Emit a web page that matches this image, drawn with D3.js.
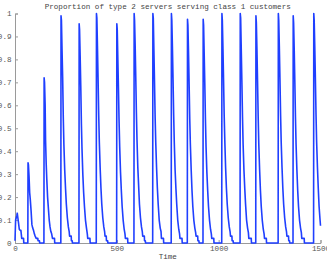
<!DOCTYPE html>
<html>
<head>
<meta charset="utf-8">
<script src="https://cdn.jsdelivr.net/npm/d3@7"></script>
<style>
  body { margin: 0; background: #fff; }
  svg { display: block; }
</style>
</head>
<body>
<div id="chart"></div>
<script>
// data, one line per spike
const time = [
  0, 3, 6, 9, 11, 14, 17, 21, 25, 29, 33, 37, 42, 43,
  63, 64, 66, 69, 72, 75, 79, 83, 87, 91, 95, 99, 104, 112, 113, 120, 121,
  142, 143, 145, 148, 150, 153, 156, 160, 164, 168, 172, 176, 180, 184, 194, 195,
  225, 226, 228, 231, 234, 237, 240, 244, 248, 252, 257, 262, 266, 268, 276, 277, 281, 282,
  314, 315, 317, 320, 323, 326, 329, 333, 337, 341, 346, 351, 355, 357, 368, 369,
  399, 400, 402, 405, 408, 411, 414, 418, 422, 426, 431, 436, 440, 442, 448, 449, 455, 456,
  499, 500, 502, 505, 508, 511, 514, 518, 522, 526, 531, 536, 540, 542, 553, 554,
  584, 585, 587, 590, 593, 596, 599, 603, 607, 611, 616, 621, 625, 627, 635, 636, 640, 641,
  676, 677, 679, 682, 685, 688, 691, 695, 699, 703, 708, 713, 717, 719, 729, 730,
  767, 768, 770, 773, 776, 779, 782, 786, 790, 794, 799, 804, 808, 810, 820, 821,
  846, 847, 849, 852, 855, 858, 861, 865, 869, 873, 878, 883, 887, 889, 897, 898, 903, 904,
  923, 924, 926, 929, 932, 935, 938, 942, 946, 950, 955, 960, 964, 966, 976, 977,
  1015, 1016, 1018, 1021, 1024, 1027, 1030, 1034, 1038, 1042, 1047, 1052, 1056, 1058, 1065, 1066, 1071, 1072,
  1105, 1106, 1108, 1111, 1114, 1117, 1120, 1124, 1128, 1132, 1137, 1142, 1146, 1148, 1160, 1161,
  1182, 1183, 1185, 1188, 1191, 1194, 1197, 1201, 1205, 1209, 1214, 1219, 1223, 1225, 1234, 1235,
  1292, 1293, 1295, 1298, 1301, 1304, 1307, 1311, 1315, 1319, 1324, 1329, 1333, 1335, 1343, 1344, 1348, 1349,
  1365, 1366, 1368, 1371, 1374, 1377, 1380, 1384, 1388, 1392, 1397, 1402, 1406, 1408, 1420, 1421,
  1466, 1467, 1469, 1472, 1475, 1478, 1481, 1485, 1489, 1493, 1497, 1500
];
const proportion = [
  0.01, 0.10, 0.11, 0.12, 0.13, 0.11, 0.09, 0.06, 0.055, 0.055, 0.02, 0.02, 0.02, 0,
  0, 0.35, 0.34, 0.29, 0.22, 0.19, 0.14, 0.08, 0.065, 0.055, 0.04, 0.03, 0.02, 0.02, 0.01, 0.01, 0,
  0, 0.72, 0.70, 0.60, 0.45, 0.35, 0.28, 0.20, 0.15, 0.10, 0.07, 0.05, 0.04, 0.02, 0.02, 0,
  0, 0.99, 0.97, 0.84, 0.72, 0.55, 0.43, 0.32, 0.24, 0.17, 0.11, 0.07, 0.05, 0.03, 0.03, 0.01, 0.01, 0,
  0, 0.955, 0.93, 0.81, 0.68, 0.52, 0.41, 0.30, 0.22, 0.16, 0.10, 0.065, 0.04, 0.02, 0.02, 0,
  0, 1.0, 0.98, 0.85, 0.71, 0.56, 0.44, 0.33, 0.24, 0.17, 0.11, 0.07, 0.05, 0.03, 0.03, 0.01, 0.01, 0,
  0, 0.955, 0.93, 0.80, 0.67, 0.53, 0.42, 0.31, 0.23, 0.16, 0.10, 0.06, 0.04, 0.02, 0.02, 0,
  0, 1.0, 0.97, 0.86, 0.72, 0.57, 0.45, 0.33, 0.25, 0.17, 0.11, 0.07, 0.05, 0.03, 0.03, 0.01, 0.01, 0,
  0, 1.0, 0.98, 0.84, 0.70, 0.55, 0.44, 0.33, 0.24, 0.17, 0.10, 0.065, 0.05, 0.02, 0.02, 0,
  0, 1.0, 0.97, 0.85, 0.71, 0.56, 0.44, 0.32, 0.24, 0.17, 0.10, 0.06, 0.04, 0.02, 0.02, 0,
  0, 0.975, 0.95, 0.83, 0.69, 0.54, 0.43, 0.32, 0.23, 0.16, 0.10, 0.065, 0.045, 0.03, 0.03, 0.01, 0.01, 0,
  0, 0.975, 0.95, 0.82, 0.69, 0.54, 0.42, 0.31, 0.23, 0.16, 0.10, 0.06, 0.04, 0.02, 0.02, 0,
  0, 1.0, 0.97, 0.85, 0.71, 0.56, 0.45, 0.33, 0.24, 0.17, 0.11, 0.07, 0.05, 0.03, 0.03, 0.01, 0.01, 0,
  0, 1.0, 0.98, 0.84, 0.70, 0.55, 0.43, 0.32, 0.24, 0.17, 0.10, 0.065, 0.045, 0.02, 0.02, 0,
  0, 0.99, 0.96, 0.84, 0.70, 0.55, 0.43, 0.32, 0.23, 0.16, 0.10, 0.06, 0.04, 0.02, 0.02, 0,
  0, 1.0, 0.97, 0.85, 0.71, 0.56, 0.44, 0.33, 0.24, 0.17, 0.11, 0.07, 0.05, 0.03, 0.03, 0.01, 0.01, 0,
  0, 0.99, 0.96, 0.84, 0.70, 0.55, 0.43, 0.32, 0.23, 0.16, 0.10, 0.065, 0.045, 0.02, 0.02, 0,
  0, 1.0, 0.97, 0.85, 0.71, 0.56, 0.44, 0.33, 0.24, 0.16, 0.11, 0.075
];
const xTicks = [0, 500, 1000, 1500];
const yTicks = [0, 0.1, 0.2, 0.3, 0.4, 0.5, 0.6, 0.7, 0.8, 0.9, 1];
const title = 'Proportion of type 2 servers serving class 1 customers';
const xLabel = 'Time';

const width = 327;
const height = 263;
const margin = {top: 13.5, right: 6.5, bottom: 20, left: 15};
const font = '"Liberation Mono", "DejaVu Sans Mono", monospace';

const points = time.map((t, i) => ({t, v: proportion[i]}));

const x = d3.scaleLinear()
  .domain([0, 1500])
  .range([margin.left, width - margin.right]);
const y = d3.scaleLinear()
  .domain([0, 1])
  .range([height - margin.bottom, margin.top]);

const svg = d3.select('#chart').append('svg')
  .attr('width', width)
  .attr('height', height)
  .style('font-family', font);

// title
svg.append('text')
  .attr('x', (x.range()[0] + x.range()[1]) / 2)
  .attr('y', 9)
  .attr('text-anchor', 'middle')
  .style('font-size', '7.6px')
  .style('fill', '#444')
  .text(title);

// axes, ticks point inward
const xAxis = svg.append('g')
  .attr('transform', `translate(0, ${y(0)})`)
  .call(d3.axisBottom(x).tickValues(xTicks).tickSize(-3).tickPadding(2.5)
    .tickFormat(d3.format('d')));
const yAxis = svg.append('g')
  .attr('transform', `translate(${x(0)}, 0)`)
  .call(d3.axisLeft(y).tickValues(yTicks).tickSize(-3).tickPadding(3.5)
    .tickFormat(d => d3.format('~g')(d)));

[xAxis, yAxis].forEach(g => {
  g.select('.domain').attr('stroke', '#9a9a9a').attr('stroke-width', 1);
  g.selectAll('.tick line').attr('stroke', '#9a9a9a');
  g.selectAll('.tick text')
    .style('font-family', font)
    .style('font-size', '7.6px')
    .style('fill', '#555');
});

// x label
svg.append('text')
  .attr('x', (x.range()[0] + x.range()[1]) / 2)
  .attr('y', 259)
  .attr('text-anchor', 'middle')
  .style('font-size', '7.6px')
  .style('fill', '#444')
  .text(xLabel);

// series
const line = d3.line()
  .x(d => x(d.t))
  .y(d => y(d.v));

svg.append('path')
  .datum(points)
  .attr('d', line)
  .style('fill', 'none')
  .style('stroke', '#1f3fff')
  .style('stroke-width', '1.6px')
  .style('stroke-linejoin', 'round');
</script>
</body>
</html>
